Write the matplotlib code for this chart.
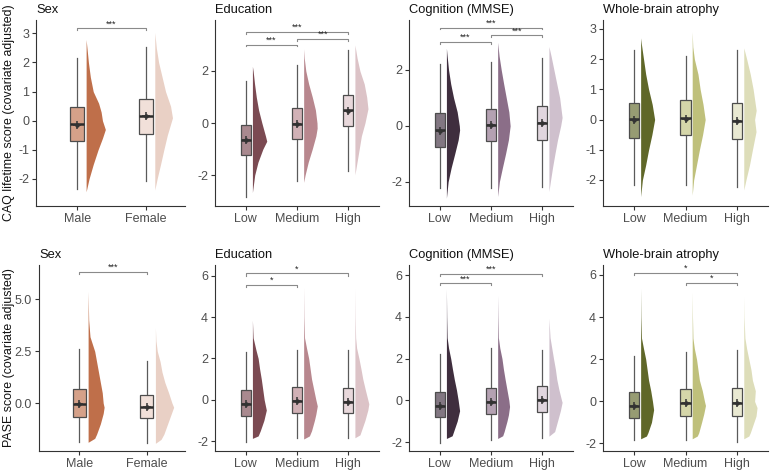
import matplotlib
matplotlib.use("Agg")
import matplotlib.pyplot as plt
from matplotlib.colors import to_rgb

plt.rcParams['font.family'] = ['Liberation Sans', 'DejaVu Sans']
plt.rcParams['axes.unicode_minus'] = False

cats_sex = ['Male', 'Female']
cats_3 = ['Low', 'Medium', 'High']

titles = ['Sex', 'Education', 'Cognition (MMSE)', 'Whole-brain atrophy']
ylabels = ['CAQ lifetime score (covariate adjusted)', 'PASE score (covariate adjusted)']

sex_colors = ['#BF6F4A', '#E9D0C5']
edu_colors = ['#7B4A52', '#B8878E', '#DCC3C7']
cog_colors = ['#3F2E3E', '#8B6E88', '#CFC0CD']
brain_colors = ['#5F6728', '#BFC07B', '#DDDDB9']

# box stats: [whisker low, q1, median, q3, whisker high, mean]
caq_sex_box = [[-2.33, -0.69, -0.13, 0.46, 2.14, -0.16], [-2.07, -0.47, 0.16, 0.74, 2.52, 0.15]]
caq_edu_box = [[-2.85, -1.22, -0.64, -0.06, 1.63, -0.64], [-2.24, -0.62, -0.03, 0.56, 2.22, -0.03],
               [-1.86, -0.13, 0.51, 1.06, 2.82, 0.48]]
caq_cog_box = [[-2.23, -0.74, -0.14, 0.45, 2.21, -0.17], [-2.21, -0.55, 0.04, 0.60, 2.27, 0.03],
               [-2.20, -0.50, 0.10, 0.72, 2.42, 0.10]]
caq_brain_box = [[-2.17, -0.62, 0.01, 0.54, 2.31, 0.0], [-2.17, -0.51, 0.04, 0.63, 2.09, 0.03],
                 [-2.22, -0.65, -0.06, 0.54, 2.31, -0.05]]
pase_sex_box = [[-1.89, -0.65, -0.03, 0.68, 2.63, -0.03], [-1.94, -0.73, -0.19, 0.39, 2.05, -0.18]]
pase_edu_box = [[-2.06, -0.77, -0.21, 0.47, 2.30, -0.20], [-1.87, -0.65, -0.05, 0.61, 2.40, -0.05],
                [-1.87, -0.66, -0.10, 0.58, 2.40, -0.10]]
pase_cog_box = [[-2.03, -0.81, -0.29, 0.40, 2.21, -0.27], [-1.88, -0.68, -0.10, 0.59, 2.50, -0.10],
                [-1.80, -0.56, 0.0, 0.67, 2.42, -0.01]]
pase_brain_box = [[-1.86, -0.79, -0.24, 0.43, 2.16, -0.22], [-1.86, -0.71, -0.09, 0.58, 2.36, -0.10],
                  [-1.94, -0.68, -0.09, 0.61, 2.44, -0.10]]

# half-violin outlines: (score, relative width)
caq_sex_violins = [
    [(2.79, 0), (2.0, 0.12), (1.5, 0.22), (1.0, 0.37), (0.6, 0.65), (0.3, 0.78), (0.0, 0.85), (-0.3, 1.0),
     (-0.6, 0.85), (-1.0, 0.62), (-1.5, 0.37), (-2.0, 0.15), (-2.44, 0)],
    [(3.03, 0), (2.5, 0.08), (2.0, 0.2), (1.5, 0.38), (1.0, 0.56), (0.5, 0.82), (0.1, 0.92), (-0.5, 0.65),
     (-1.0, 0.47), (-1.5, 0.3), (-2.0, 0.12), (-2.38, 0)],
]
caq_edu_violins = [
    [(2.18, 0), (2.0, 0.05), (1.5, 0.15), (1.0, 0.27), (0.5, 0.43), (0.0, 0.66), (-0.5, 0.91), (-0.7, 1.0),
     (-1.0, 0.73), (-1.5, 0.39), (-2.0, 0.16), (-2.67, 0)],
    [(2.85, 0), (2.5, 0.04), (2.0, 0.15), (1.5, 0.35), (1.0, 0.6), (0.5, 0.82), (0.0, 0.93), (-0.2, 0.94),
     (-0.5, 0.85), (-1.0, 0.6), (-1.5, 0.32), (-2.0, 0.1), (-2.28, 0)],
    [(3.0, 0), (2.5, 0.15), (2.0, 0.35), (1.5, 0.65), (1.0, 0.82), (0.55, 0.91), (0.0, 0.7), (-0.5, 0.45),
     (-1.0, 0.3), (-1.5, 0.15), (-1.99, 0)],
]
caq_cog_violins = [
    [(2.78, 0), (2.5, 0.05), (2.0, 0.15), (1.5, 0.3), (1.0, 0.5), (0.5, 0.75), (0.0, 0.9), (-0.15, 0.92),
     (-0.5, 0.82), (-1.0, 0.58), (-1.5, 0.33), (-2.0, 0.12), (-2.59, 0)],
    [(2.99, 0), (2.5, 0.1), (2.0, 0.25), (1.5, 0.42), (1.0, 0.6), (0.5, 0.78), (0.0, 0.87), (-0.5, 0.75),
     (-1.0, 0.55), (-1.5, 0.33), (-2.0, 0.12), (-2.53, 0)],
    [(2.84, 0), (2.5, 0.15), (2.0, 0.35), (1.5, 0.55), (1.0, 0.75), (0.3, 0.92), (0.0, 0.82), (-0.5, 0.6),
     (-1.0, 0.42), (-1.5, 0.25), (-2.0, 0.1), (-2.35, 0)],
]
caq_brain_violins = [
    [(2.7, 0), (2.5, 0.05), (2.0, 0.2), (1.5, 0.35), (1.0, 0.55), (0.5, 0.8), (0.0, 0.97), (-0.5, 0.78),
     (-1.0, 0.55), (-1.5, 0.35), (-2.0, 0.12), (-2.55, 0)],
    [(2.9, 0), (2.4, 0.04), (2.0, 0.15), (1.5, 0.4), (1.0, 0.55), (0.5, 0.75), (0.0, 0.9), (-0.5, 0.72),
     (-1.0, 0.5), (-1.5, 0.3), (-2.0, 0.1), (-2.5, 0)],
    [(2.37, 0), (2.0, 0.2), (1.5, 0.45), (1.0, 0.65), (0.3, 0.86), (0.0, 0.75), (-0.4, 0.85), (-1.0, 0.6),
     (-1.5, 0.4), (-2.0, 0.15), (-2.33, 0)],
]
pase_sex_violins = [
    [(5.4, 0), (4.0, 0.03), (3.2, 0.1), (2.5, 0.35), (2.0, 0.45), (1.5, 0.55), (1.0, 0.65), (0.5, 0.75),
     (0.0, 0.8), (-0.2, 0.85), (-0.5, 0.8), (-1.0, 0.65), (-1.5, 0.45), (-1.7, 0.35), (-1.89, 0)],
    [(3.63, 0), (3.0, 0.03), (2.5, 0.1), (2.0, 0.25), (1.5, 0.35), (1.0, 0.5), (0.5, 0.7), (0.0, 0.88),
     (-0.2, 0.97), (-0.5, 0.85), (-1.0, 0.65), (-1.5, 0.45), (-1.75, 0.3), (-1.94, 0)],
]
pase_edu_violins = [
    [(3.85, 0), (3.0, 0.05), (2.4, 0.25), (2.0, 0.4), (1.5, 0.5), (1.0, 0.62), (0.5, 0.72), (0.0, 0.82),
     (-0.5, 0.97), (-1.0, 0.8), (-1.5, 0.55), (-1.75, 0.4), (-1.87, 0)],
    [(5.47, 0), (4.0, 0.02), (3.0, 0.06), (2.5, 0.2), (2.0, 0.35), (1.5, 0.45), (1.0, 0.55), (0.5, 0.7),
     (0.0, 0.85), (-0.3, 0.95), (-0.7, 0.85), (-1.0, 0.75), (-1.5, 0.55), (-1.75, 0.4), (-1.9, 0)],
    [(5.4, 0), (4.0, 0.02), (3.0, 0.05), (2.5, 0.12), (2.0, 0.28), (1.5, 0.42), (1.0, 0.55), (0.5, 0.72),
     (0.0, 0.9), (-0.2, 0.97), (-0.5, 0.9), (-1.0, 0.7), (-1.5, 0.45), (-1.7, 0.35), (-1.84, 0)],
]
pase_cog_violins = [
    [(5.36, 0), (4.0, 0.02), (3.0, 0.05), (2.5, 0.15), (2.0, 0.3), (1.5, 0.42), (1.0, 0.55), (0.5, 0.7),
     (0.0, 0.82), (-0.5, 0.92), (-1.0, 0.75), (-1.5, 0.5), (-1.7, 0.4), (-1.83, 0)],
    [(5.04, 0), (4.0, 0.02), (3.0, 0.05), (2.5, 0.15), (2.0, 0.3), (1.5, 0.4), (1.0, 0.52), (0.5, 0.65),
     (0.0, 0.78), (-0.3, 0.83), (-0.7, 0.75), (-1.0, 0.65), (-1.5, 0.45), (-1.7, 0.35), (-1.83, 0)],
    [(3.93, 0), (3.0, 0.08), (2.5, 0.2), (2.0, 0.32), (1.5, 0.45), (1.0, 0.55), (0.5, 0.7), (0.0, 0.88),
     (-0.1, 0.92), (-0.5, 0.8), (-1.0, 0.6), (-1.5, 0.4), (-1.72, 0)],
]
pase_brain_violins = [
    [(5.39, 0), (4.0, 0.02), (3.0, 0.06), (2.5, 0.2), (2.0, 0.35), (1.5, 0.45), (1.0, 0.55), (0.5, 0.7),
     (0.0, 0.82), (-0.4, 0.9), (-1.0, 0.75), (-1.5, 0.5), (-1.65, 0.4), (-1.78, 0)],
    [(5.2, 0), (4.0, 0.02), (3.0, 0.05), (2.5, 0.15), (2.0, 0.3), (1.5, 0.4), (1.0, 0.5), (0.5, 0.7),
     (0.0, 0.85), (-0.2, 0.92), (-0.6, 0.8), (-1.0, 0.65), (-1.5, 0.45), (-1.65, 0.35), (-1.78, 0)],
    [(5.0, 0), (4.0, 0.02), (3.0, 0.08), (2.5, 0.2), (2.0, 0.35), (1.5, 0.5), (1.0, 0.6), (0.5, 0.8),
     (0.0, 0.75), (-0.3, 0.92), (-0.7, 0.85), (-1.0, 0.7), (-1.5, 0.45), (-1.65, 0.35), (-1.78, 0)],
]

# significance brackets: (group a, group b, height, label)
caq_sex_sig = [(0, 1, 3.17, '***')]
caq_edu_sig = [(0, 2, 3.5, '***'), (1, 2, 3.23, '***'), (0, 1, 3.01, '***')]
caq_cog_sig = [(0, 2, 3.52, '***'), (1, 2, 3.24, '***'), (0, 1, 3.0, '***')]
caq_brain_sig = []
pase_sex_sig = [(0, 1, 6.32, '***')]
pase_edu_sig = [(0, 2, 6.11, '*'), (0, 1, 5.55, '*')]
pase_cog_sig = [(0, 2, 6.07, '***'), (0, 1, 5.6, '***')]
pase_brain_sig = [(0, 2, 6.09, '*'), (1, 2, 5.62, '*')]

ylims = [[(-2.93, 3.46), (-3.19, 3.96), (-2.87, 3.79), (-2.86, 3.29)],
         [(-2.31, 6.66), (-2.48, 6.52), (-2.43, 6.48), (-2.36, 6.47)]]
yticks = [[[-2, -1, 0, 1, 2, 3], [-2, 0, 2], [-2, 0, 2], [-2, -1, 0, 1, 2, 3]],
          [[0, 2.5, 5.0], [-2, 0, 2, 4, 6], [-2, 0, 2, 4, 6], [-2, 0, 2, 4, 6]]]

rows = [
    [(cats_sex, sex_colors, caq_sex_box, caq_sex_violins, caq_sex_sig),
     (cats_3, edu_colors, caq_edu_box, caq_edu_violins, caq_edu_sig),
     (cats_3, cog_colors, caq_cog_box, caq_cog_violins, caq_cog_sig),
     (cats_3, brain_colors, caq_brain_box, caq_brain_violins, caq_brain_sig)],
    [(cats_sex, sex_colors, pase_sex_box, pase_sex_violins, pase_sex_sig),
     (cats_3, edu_colors, pase_edu_box, pase_edu_violins, pase_edu_sig),
     (cats_3, cog_colors, pase_cog_box, pase_cog_violins, pase_cog_sig),
     (cats_3, brain_colors, pase_brain_box, pase_brain_violins, pase_brain_sig)],
]

W, H = 770, 471
fig = plt.figure(figsize=(W / 100, H / 100), dpi=100)

col_px = [(36, 185), (215, 379), (409, 573), (603, 768)]
row_px = [(20, 206), (265, 451)]


def lighten(c, a=0.65):
    r, g, b = to_rgb(c)
    return (r * a + 1 - a, g * a + 1 - a, b * a + 1 - a)


for ri, row in enumerate(rows):
    top, bot = row_px[ri]
    for ci, (cats, colors, boxes, violins, sigs) in enumerate(row):
        left, right = col_px[ci]
        if ri == 1 and ci == 0:
            left = 39
        ax = fig.add_axes([left / W, 1 - bot / H, (right - left) / W, (bot - top) / H])
        pos = list(range(1, len(cats) + 1))

        for p, col, v in zip(pos, colors, violins):
            ys = [a for a, b in v]
            ws = [b * 0.28 for a, b in v]
            base = p + 0.13
            ax.fill_betweenx(ys, base, [base + w for w in ws], color=col, lw=0, zorder=2)

        stats = [dict(whislo=b[0], q1=b[1], med=b[2], q3=b[3], whishi=b[4], fliers=[]) for b in boxes]
        bp = ax.bxp(stats, positions=pos, widths=0.2, patch_artist=True, showfliers=False,
                    showcaps=False, manage_ticks=False,
                    boxprops=dict(edgecolor='#4d4d4d', linewidth=0.9),
                    whiskerprops=dict(color='#5a5a5a', linewidth=0.9),
                    medianprops=dict(color='#2b2b2b', linewidth=1.8))
        for patch, col in zip(bp['boxes'], colors):
            patch.set_facecolor(lighten(col))
            patch.set_zorder(3)
        for m in bp['medians']:
            m.set_zorder(4)
        ax.plot(pos, [b[5] for b in boxes], '+', color='#333333', ms=6, mew=1.1, zorder=5)
        ax.plot(pos, [b[5] for b in boxes], 'o', color='#333333', ms=2.2, zorder=5)

        d = 0.06 if ri == 0 else 0.1
        for a, b, y, lab in sigs:
            ax.plot([pos[a], pos[a], pos[b], pos[b]], [y - d, y, y, y - d], color='#8a8a8a', lw=0.8)
            ax.text((pos[a] + pos[b]) / 2, y, lab, ha='center', va='bottom', fontsize=6.5, color='#222222')

        ax.set_xlim(0.4, 2.57 if len(cats) == 2 else 3.6)
        ax.set_ylim(*ylims[ri][ci])
        ax.set_xticks(pos)
        ax.set_xticklabels(cats)
        ax.set_yticks(yticks[ri][ci])
        if ri == 1 and ci == 0:
            ax.set_yticklabels(['0.0', '2.5', '5.0'])
        ax.tick_params(labelsize=9.0, labelcolor='#4d4d4d', color='#333333', length=3, width=0.8, pad=2)
        for s in ['top', 'right']:
            ax.spines[s].set_visible(False)
        for s in ['left', 'bottom']:
            ax.spines[s].set_color('#333333')
            ax.spines[s].set_linewidth(0.8)
        ax.set_title(titles[ci], loc='left', fontsize=9.3, pad=5, color='#111111')

    fig.text(9 / W, 1 - (top + bot) / 2 / H, ylabels[ri], rotation=90, ha='center', va='center',
             fontsize=8.9, color='#111111')

fig.savefig('out.png', dpi=100)
